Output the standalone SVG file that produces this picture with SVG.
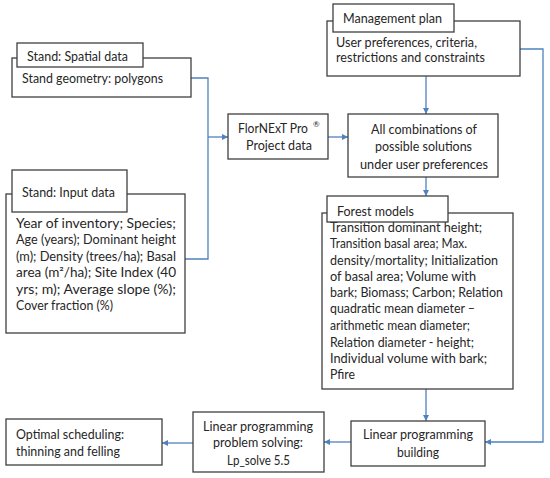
<svg xmlns="http://www.w3.org/2000/svg" width="550" height="478" viewBox="0 0 550 478">
<style>
.box{fill:#ffffff;stroke:#3f3f3f;stroke-width:1.3}
.t{font-family:Lato,"Liberation Sans",Arial,sans-serif;font-size:13px;fill:#262626}
.c{fill:none;stroke:#4f81bd;stroke-width:1.3}
</style>
<defs>
<marker id="arr" markerUnits="userSpaceOnUse" markerWidth="7" markerHeight="7" refX="6" refY="3" orient="auto">
<path d="M0,0 L6,3 L0,6 z" fill="#4f81bd"/>
</marker>
</defs>
<rect width="550" height="478" fill="#ffffff"/>

<g id="connectors">
<polyline class="c" points="191,78 208,78 208,259 185,259"/>
<line class="c" x1="208" y1="137" x2="228" y2="137" marker-end="url(#arr)"/>
<line class="c" x1="328" y1="137" x2="348" y2="137" marker-end="url(#arr)"/>
<line class="c" x1="426" y1="76" x2="426" y2="114" marker-end="url(#arr)"/>
<line class="c" x1="426" y1="177" x2="426" y2="196" marker-end="url(#arr)"/>
<line class="c" x1="426" y1="389" x2="426" y2="421" marker-end="url(#arr)"/>
<polyline class="c" points="520,49 543,49 543,442 485,442" marker-end="url(#arr)"/>
<line class="c" x1="351" y1="442" x2="324" y2="442" marker-end="url(#arr)"/>
<line class="c" x1="193" y1="443" x2="162" y2="443" marker-end="url(#arr)"/>
</g>

<g id="stand-spatial">
<rect class="box" x="12" y="58" width="179" height="39"/>
<rect class="box" x="17" y="43" width="126" height="24"/>
<text class="t" x="27" y="60.5" textLength="101" lengthAdjust="spacingAndGlyphs">Stand: Spatial data</text>
<text class="t" x="22" y="82.5" textLength="141" lengthAdjust="spacingAndGlyphs">Stand geometry: polygons</text>
</g>

<g id="stand-input">
<rect class="box" x="6" y="194" width="179" height="139"/>
<rect class="box" x="12" y="170" width="115" height="42"/>
<text class="t" x="22" y="196.5" textLength="93" lengthAdjust="spacingAndGlyphs">Stand: Input data</text>
<text class="t" x="16" y="227.5" textLength="160" lengthAdjust="spacingAndGlyphs">Year of inventory; Species;</text>
<text class="t" x="16" y="244" textLength="160" lengthAdjust="spacingAndGlyphs">Age (years); Dominant height</text>
<text class="t" x="16" y="260.5" textLength="160" lengthAdjust="spacingAndGlyphs">(m); Density (trees/ha); Basal</text>
<text class="t" x="16" y="277" textLength="160" lengthAdjust="spacingAndGlyphs">area (m²/ha); Site Index (40</text>
<text class="t" x="16" y="293.5" textLength="160" lengthAdjust="spacingAndGlyphs">yrs; m); Average slope (%);</text>
<text class="t" x="16" y="310" textLength="97" lengthAdjust="spacingAndGlyphs">Cover fraction (%)</text>
</g>

<g id="management-plan">
<rect class="box" x="327" y="21" width="193" height="55"/>
<rect class="box" x="333" y="4" width="121" height="28"/>
<text class="t" x="343" y="22.5" textLength="99" lengthAdjust="spacingAndGlyphs">Management plan</text>
<text class="t" x="336" y="46.5" textLength="141" lengthAdjust="spacingAndGlyphs">User preferences, criteria,</text>
<text class="t" x="336" y="61.5" textLength="149" lengthAdjust="spacingAndGlyphs">restrictions and constraints</text>
</g>

<g id="flornext">
<rect class="box" x="228" y="114" width="100" height="45"/>
<text class="t" x="238" y="132.5" textLength="70" lengthAdjust="spacingAndGlyphs">FlorNExT Pro</text>
<text class="t" x="313" y="127" style="font-size:8px">®</text>
<text class="t" x="246" y="149.5" textLength="66" lengthAdjust="spacingAndGlyphs">Project data</text>
</g>

<g id="all-combinations">
<rect class="box" x="348" y="114" width="150" height="63"/>
<text class="t" x="371" y="133.5" textLength="106" lengthAdjust="spacingAndGlyphs">All combinations of</text>
<text class="t" x="375" y="150.5" textLength="97" lengthAdjust="spacingAndGlyphs">possible solutions</text>
<text class="t" x="360" y="168.5" textLength="128" lengthAdjust="spacingAndGlyphs">under user preferences</text>
</g>

<g id="forest-models">
<rect class="box" x="322" y="213" width="191" height="176"/>
<text class="t" x="330" y="231.5" textLength="152" lengthAdjust="spacingAndGlyphs">Transition dominant height;</text>
<text class="t" x="330" y="247.5" textLength="137" lengthAdjust="spacingAndGlyphs">Transition basal area; Max.</text>
<text class="t" x="330" y="264.5" textLength="168" lengthAdjust="spacingAndGlyphs">density/mortality; Initialization</text>
<text class="t" x="330" y="280.5" textLength="146" lengthAdjust="spacingAndGlyphs">of basal area; Volume with</text>
<text class="t" x="330" y="296.5" textLength="173" lengthAdjust="spacingAndGlyphs">bark; Biomass; Carbon; Relation</text>
<text class="t" x="330" y="312.5" textLength="145" lengthAdjust="spacingAndGlyphs">quadratic mean diameter –</text>
<text class="t" x="330" y="329.5" textLength="140" lengthAdjust="spacingAndGlyphs">arithmetic mean diameter;</text>
<text class="t" x="330" y="346.5" textLength="144" lengthAdjust="spacingAndGlyphs">Relation diameter - height;</text>
<text class="t" x="330" y="362.5" textLength="157" lengthAdjust="spacingAndGlyphs">Individual volume with bark;</text>
<text class="t" x="330" y="378.5" textLength="25" lengthAdjust="spacingAndGlyphs">Pfire</text>
<rect class="box" x="327" y="196" width="121" height="26"/>
<text class="t" x="337" y="215.5" textLength="77" lengthAdjust="spacingAndGlyphs">Forest models</text>
</g>

<g id="lp-building">
<rect class="box" x="351" y="421" width="134" height="45"/>
<text class="t" x="363" y="438.5" textLength="110" lengthAdjust="spacingAndGlyphs">Linear programming</text>
<text class="t" x="397" y="456.5" textLength="42" lengthAdjust="spacingAndGlyphs">building</text>
</g>

<g id="lp-solving">
<rect class="box" x="193" y="412" width="131" height="60"/>
<text class="t" x="203" y="430.5" textLength="110" lengthAdjust="spacingAndGlyphs">Linear programming</text>
<text class="t" x="213" y="446.5" textLength="90" lengthAdjust="spacingAndGlyphs">problem solving:</text>
<text class="t" x="227" y="464.5" textLength="63" lengthAdjust="spacingAndGlyphs">Lp_solve 5.5</text>
</g>

<g id="optimal-scheduling">
<rect class="box" x="6" y="419" width="156" height="46"/>
<text class="t" x="16" y="438.5" textLength="108" lengthAdjust="spacingAndGlyphs">Optimal scheduling:</text>
<text class="t" x="16" y="455.5" textLength="104" lengthAdjust="spacingAndGlyphs">thinning and felling</text>
</g>
</svg>
